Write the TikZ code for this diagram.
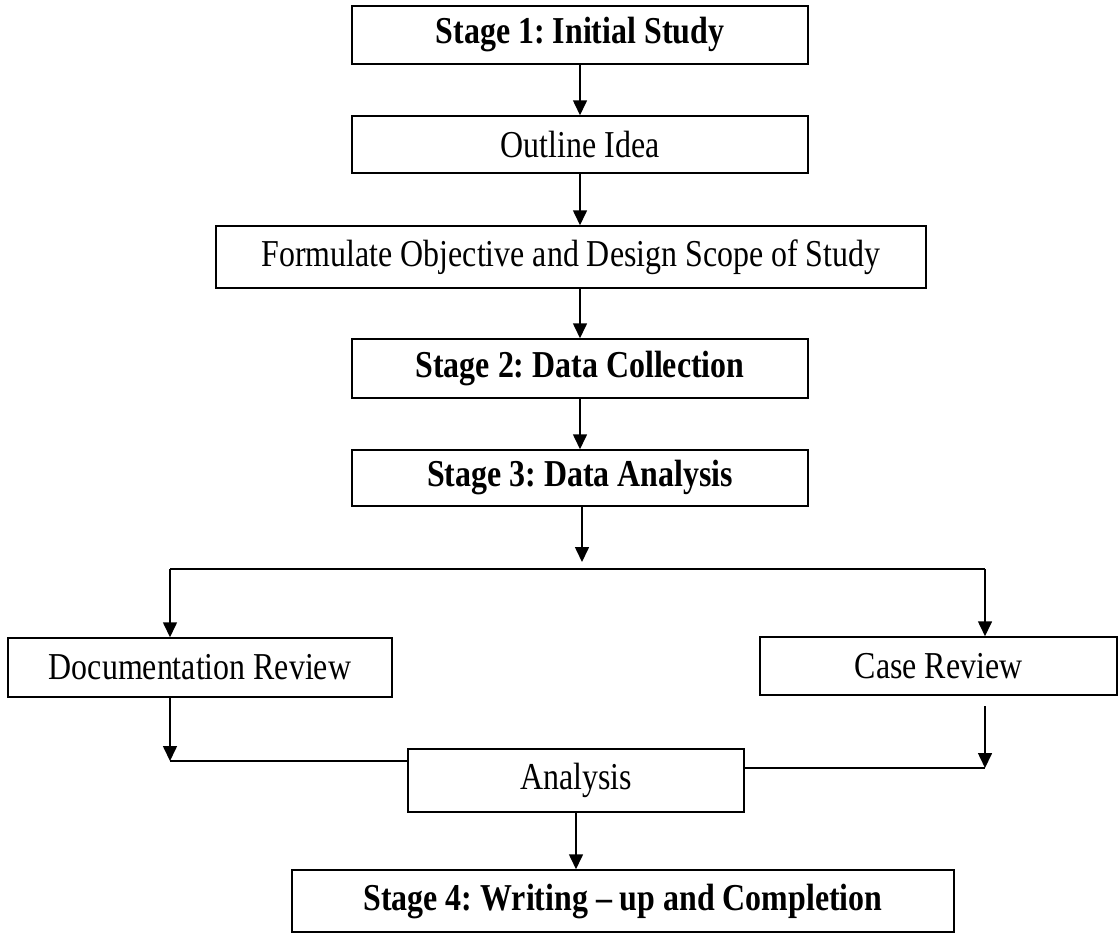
\documentclass[tikz,border=0pt]{standalone}
\usepackage{fontspec}
\setmainfont{Liberation Serif}[FakeStretch=0.84]
\usetikzlibrary{arrows.meta,positioning,calc}
\frenchspacing

\begin{document}
\begin{tikzpicture}[x=1pt,y=-1pt,
    stagebox/.style={draw,line width=1.5pt,inner sep=0pt,font=\fontsize{38}{44}\selectfont\bfseries},
    taskbox/.style={draw,line width=1.5pt,inner sep=0pt,font=\fontsize{38}{44}\selectfont},
    flow/.style={line width=1.6pt,-{Triangle[length=15pt,width=14pt]}},
    link/.style={line width=1.6pt}]
    \useasboundingbox (0,0) rectangle (1118,934);
    % main column
    \node[stagebox,minimum width=456pt,minimum height=58pt] (stageone) at (580,35) {Stage 1: Initial Study};
    \node[taskbox,minimum width=456pt,minimum height=57pt] (outline) at (580,144.5) {Outline Idea};
    \node[taskbox,minimum width=710pt,minimum height=62pt] (formulate) at (571,257) {Formulate Objective and Design Scope of Study};
    \node[stagebox,minimum width=456pt,minimum height=59pt] (stagetwo) at (580,368.5) {Stage 2: Data Collection};
    \node[stagebox,minimum width=456pt,minimum height=56pt] (stagethree) at (580,478) {Stage 3: Data Analysis};
    \node[taskbox,minimum width=384pt,minimum height=59pt] (docreview) at (200,667.5) {Documentation Review};
    \node[taskbox,minimum width=357pt,minimum height=58pt] (casereview) at (938.5,666) {Case Review};
    \node[taskbox,minimum width=336pt,minimum height=63pt] (analysis) at (576,780.5) {Analysis};
    \node[stagebox,minimum width=662pt,minimum height=62pt] (stagefour) at (623,901) {Stage 4: Writing -- up and Completion};
    % split and join points
    \coordinate (split) at (582,562);
    \coordinate (branchl) at (170,569);
    \coordinate (branchr) at (985,569);
    \coordinate (joinl) at (170,761);
    \coordinate (caseout) at (985,706);
    \coordinate (joinr) at (985,768);
    \draw[flow] (stageone) -- (outline);
    \draw[flow] (outline.south) -- (outline.south |- formulate.north);
    \draw[flow] (formulate.south -| stagetwo.north) -- (stagetwo);
    \draw[flow] (stagetwo) -- (stagethree);
    \draw[flow] (split |- stagethree.south) -- (split);
    \draw[link] (branchl) -- (branchr);
    \draw[flow] (branchl) -- (branchl |- docreview.north);
    \draw[flow] (branchr) -- (branchr |- casereview.north);
    \draw[flow] (branchl |- docreview.south) -- (joinl);
    \draw[link] (joinl) -- (joinl -| analysis.west);
    \draw[flow] (caseout) -- (joinr);
    \draw[link] (joinr -| analysis.east) -- (joinr);
    \draw[flow] (analysis) -- (analysis |- stagefour.north);
\end{tikzpicture}
\end{document}
